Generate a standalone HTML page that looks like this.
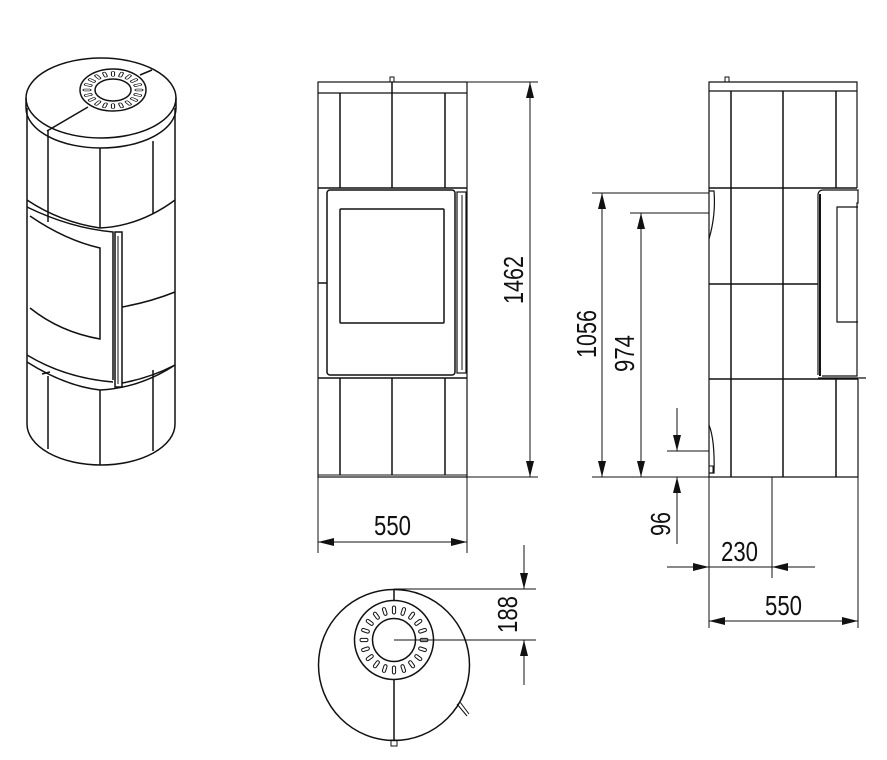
<!DOCTYPE html>
<html><head><meta charset="utf-8"><style>
html,body{margin:0;padding:0;background:#fff;}
svg{display:block;}
text{font-family:"Liberation Sans",sans-serif;fill:#111;}
</style></head><body>
<svg width="887" height="760" viewBox="0 0 887 760" xmlns="http://www.w3.org/2000/svg">
<defs>
<marker id="ar" viewBox="0 0 16 8" refX="16" refY="4" markerWidth="16" markerHeight="8" markerUnits="userSpaceOnUse" orient="auto-start-reverse">
<path d="M0,0 L16,4 L0,8 Z" fill="#111"/>
</marker>
<rect id="slot" x="-1.6" y="-4" width="3.2" height="8" rx="1.6" fill="none" stroke="#111" stroke-width="1"/>
</defs>

<!-- ============ PERSPECTIVE VIEW ============ -->
<g fill="none" stroke="#111" stroke-width="1.5">
<ellipse cx="101" cy="98" rx="75" ry="40"/>
<path d="M26,98 L26,108 A75,40 0 0 0 176,108 L176,98"/>
<line x1="27" y1="108" x2="27" y2="424"/>
<line x1="175" y1="108" x2="175" y2="424"/>
<path d="M27,424 A74,41 0 0 0 175,424"/>
<!-- ring -->
<ellipse cx="113" cy="90" rx="33" ry="21"/>
<ellipse cx="113" cy="90" rx="18" ry="11"/>
<line x1="88" y1="107" x2="47" y2="131"/>
<line x1="140" y1="75" x2="152" y2="70"/>
<!-- upper tiles -->
<line x1="48" y1="131" x2="48" y2="222"/>
<line x1="100" y1="148" x2="100" y2="228"/>
<line x1="153" y1="141" x2="153" y2="214"/>
<!-- upper band -->
<path d="M27,200 Q60,222 100,228 Q140,226 175,200"/>
<!-- door -->
<path d="M27,207 Q70,228 113,232 L113,380"/>
<path d="M30,216 Q65,240 100,248 L100,339 Q60,332 30,308"/>
<rect x="115" y="232" width="7" height="155"/>
<line x1="118" y1="236" x2="118" y2="384" stroke-width="1"/>
<path d="M122,307 Q150,302 175,292"/>
<!-- lower band -->
<path d="M27,355 Q65,378 113,382"/>
<path d="M27,362 Q65,386 100,390 Q140,388 175,365"/>
<path d="M122,383 Q150,378 175,365"/>
<line x1="42" y1="374" x2="50" y2="372"/>
<!-- lower tiles -->
<line x1="48" y1="376" x2="48" y2="449"/>
<line x1="100" y1="390" x2="100" y2="465"/>
<line x1="153" y1="370" x2="153" y2="451"/>
</g>
<g transform="translate(113,90) scale(1,0.62)">
<g>
<use href="#slot" transform="rotate(0) translate(0,-26)"/>
<use href="#slot" transform="rotate(18) translate(0,-26)"/>
<use href="#slot" transform="rotate(36) translate(0,-26)"/>
<use href="#slot" transform="rotate(54) translate(0,-26)"/>
<use href="#slot" transform="rotate(72) translate(0,-26)"/>
<use href="#slot" transform="rotate(90) translate(0,-26)"/>
<use href="#slot" transform="rotate(108) translate(0,-26)"/>
<use href="#slot" transform="rotate(126) translate(0,-26)"/>
<use href="#slot" transform="rotate(144) translate(0,-26)"/>
<use href="#slot" transform="rotate(162) translate(0,-26)"/>
<use href="#slot" transform="rotate(180) translate(0,-26)"/>
<use href="#slot" transform="rotate(198) translate(0,-26)"/>
<use href="#slot" transform="rotate(216) translate(0,-26)"/>
<use href="#slot" transform="rotate(234) translate(0,-26)"/>
<use href="#slot" transform="rotate(252) translate(0,-26)"/>
<use href="#slot" transform="rotate(270) translate(0,-26)"/>
<use href="#slot" transform="rotate(288) translate(0,-26)"/>
<use href="#slot" transform="rotate(306) translate(0,-26)"/>
<use href="#slot" transform="rotate(324) translate(0,-26)"/>
<use href="#slot" transform="rotate(342) translate(0,-26)"/>
</g>
</g>

<!-- ============ FRONT VIEW ============ -->
<g fill="none" stroke="#111" stroke-width="1.5">
<rect x="318" y="82" width="149" height="395" stroke-width="1.2"/>
<line x1="318" y1="93" x2="467" y2="93" stroke-width="1.2"/>
<rect x="390" y="77" width="4" height="5" stroke-width="1"/>
<line x1="340" y1="93" x2="340" y2="188"/>
<line x1="392" y1="82" x2="392" y2="188"/>
<line x1="445" y1="93" x2="445" y2="188"/>
<line x1="318" y1="188" x2="467" y2="188"/>
<rect x="327" y="190" width="128" height="185" rx="3"/>
<rect x="340" y="209" width="104" height="114" rx="1"/>
<rect x="457" y="192" width="9" height="181" stroke-width="1.2"/>
<line x1="462" y1="195" x2="462" y2="370" stroke-width="1"/>
<line x1="318" y1="283" x2="327" y2="283"/>
<line x1="318" y1="378" x2="467" y2="378"/>
<line x1="340" y1="378" x2="340" y2="475"/>
<line x1="392" y1="378" x2="392" y2="475"/>
<line x1="445" y1="378" x2="445" y2="475"/>
<line x1="318" y1="475" x2="467" y2="475" stroke-width="1"/>
</g>
<!-- front dimensions -->
<g stroke="#111" stroke-width="1" fill="none">
<line x1="467" y1="82" x2="538" y2="82"/>
<line x1="467" y1="477" x2="538" y2="477"/>
<line x1="530" y1="82" x2="530" y2="477" marker-start="url(#ar)" marker-end="url(#ar)"/>
<line x1="318" y1="477" x2="318" y2="553"/>
<line x1="467" y1="477" x2="467" y2="553"/>
<line x1="318" y1="542" x2="467" y2="542" marker-start="url(#ar)" marker-end="url(#ar)"/>
</g>
<text x="0" y="0" font-size="28" textLength="48" lengthAdjust="spacingAndGlyphs" transform="translate(523,304) rotate(-90)">1462</text>
<text x="374" y="535" font-size="28" textLength="37" lengthAdjust="spacingAndGlyphs">550</text>

<!-- ============ SIDE VIEW ============ -->
<g fill="none" stroke="#111" stroke-width="1.5">
<path d="M709,477 L709,82 L857,82 L857,188" stroke-width="1.2"/>
<line x1="709" y1="91" x2="857" y2="91" stroke-width="1.2"/>
<rect x="725" y="77" width="4" height="5" stroke-width="1"/>
<line x1="731" y1="91" x2="731" y2="477"/>
<line x1="783" y1="91" x2="783" y2="477"/>
<line x1="836" y1="91" x2="836" y2="188"/>
<line x1="709" y1="188" x2="857" y2="188"/>
<line x1="709" y1="284" x2="818" y2="284"/>
<line x1="709" y1="379" x2="858" y2="379"/>
<line x1="836" y1="379" x2="836" y2="477"/>
<line x1="709" y1="477" x2="858" y2="477" stroke-width="1.2"/>
<line x1="858" y1="379" x2="858" y2="477" stroke-width="1.2"/>
<!-- door profile -->
<path d="M818,375 L818,194 Q819,190 823,190 L858,190 L858,203 L857,203 L857,376 L822,376" stroke-width="1.2"/>
<line x1="820" y1="194" x2="820" y2="376" stroke-width="2"/>
<path d="M858,207 L837,207 L837,322 L858,322" stroke-width="1.2"/>
<line x1="818" y1="378" x2="866" y2="378" stroke-width="1.2"/>
<!-- small curves -->
<path d="M709,191 L714,191 Q716,215 709,239" stroke-width="1.2"/>
<path d="M709,425 Q715,440 714,473 L709,473" stroke-width="1.2"/>
<rect x="709" y="466" width="4" height="7" stroke-width="1"/>
</g>
<!-- side dimensions -->
<g stroke="#111" stroke-width="1" fill="none">
<line x1="592" y1="193" x2="709" y2="193"/>
<line x1="630" y1="213" x2="709" y2="213"/>
<line x1="592" y1="477" x2="709" y2="477"/>
<line x1="602" y1="193" x2="602" y2="477" marker-start="url(#ar)" marker-end="url(#ar)"/>
<line x1="641" y1="213" x2="641" y2="477" marker-start="url(#ar)" marker-end="url(#ar)"/>
<line x1="667" y1="451" x2="709" y2="451"/>
<line x1="677" y1="408" x2="677" y2="451" marker-end="url(#ar)"/>
<line x1="677" y1="544" x2="677" y2="477" marker-end="url(#ar)"/>
<line x1="667" y1="567" x2="709" y2="567" marker-end="url(#ar)"/>
<line x1="709" y1="567" x2="815" y2="567"/>
<line x1="815" y1="567" x2="772" y2="567" marker-end="url(#ar)"/>
<line x1="772" y1="477" x2="772" y2="578"/>
<line x1="709" y1="477" x2="709" y2="628"/>
<line x1="858" y1="477" x2="858" y2="628"/>
<line x1="709" y1="621" x2="858" y2="621" marker-start="url(#ar)" marker-end="url(#ar)"/>
</g>
<text font-size="28" textLength="48" lengthAdjust="spacingAndGlyphs" transform="translate(596,358) rotate(-90)">1056</text>
<text font-size="28" textLength="37" lengthAdjust="spacingAndGlyphs" transform="translate(634,372) rotate(-90)">974</text>
<text font-size="28" textLength="24" lengthAdjust="spacingAndGlyphs" transform="translate(670,536) rotate(-90)">96</text>
<text x="721" y="561" font-size="28" textLength="37" lengthAdjust="spacingAndGlyphs">230</text>
<text x="765" y="615" font-size="28" textLength="37" lengthAdjust="spacingAndGlyphs">550</text>

<!-- ============ TOP VIEW ============ -->
<g fill="none" stroke="#111" stroke-width="1.5">
<circle cx="394" cy="665" r="75.5"/>
<line x1="394" y1="589" x2="394" y2="601"/>
<line x1="394" y1="680" x2="394" y2="740"/>
<rect x="391" y="740" width="6" height="6" stroke-width="1"/>
<circle cx="394" cy="640" r="39.5"/>
<circle cx="394" cy="640" r="21.5"/>
<path d="M457,704 L467,716 M460,702 L469,714" stroke-width="1"/>
</g>
<g transform="translate(394,640)">
<use href="#slot" transform="rotate(0) translate(0,-30)"/>
<use href="#slot" transform="rotate(18) translate(0,-30)"/>
<use href="#slot" transform="rotate(36) translate(0,-30)"/>
<use href="#slot" transform="rotate(54) translate(0,-30)"/>
<use href="#slot" transform="rotate(72) translate(0,-30)"/>
<use href="#slot" transform="rotate(90) translate(0,-30)"/>
<use href="#slot" transform="rotate(108) translate(0,-30)"/>
<use href="#slot" transform="rotate(126) translate(0,-30)"/>
<use href="#slot" transform="rotate(144) translate(0,-30)"/>
<use href="#slot" transform="rotate(162) translate(0,-30)"/>
<use href="#slot" transform="rotate(180) translate(0,-30)"/>
<use href="#slot" transform="rotate(198) translate(0,-30)"/>
<use href="#slot" transform="rotate(216) translate(0,-30)"/>
<use href="#slot" transform="rotate(234) translate(0,-30)"/>
<use href="#slot" transform="rotate(252) translate(0,-30)"/>
<use href="#slot" transform="rotate(270) translate(0,-30)"/>
<use href="#slot" transform="rotate(288) translate(0,-30)"/>
<use href="#slot" transform="rotate(306) translate(0,-30)"/>
<use href="#slot" transform="rotate(324) translate(0,-30)"/>
<use href="#slot" transform="rotate(342) translate(0,-30)"/>
</g>
<g stroke="#111" stroke-width="1" fill="none">
<line x1="394" y1="589" x2="536" y2="589"/>
<line x1="394" y1="640" x2="536" y2="640"/>
<line x1="524" y1="545" x2="524" y2="589" marker-end="url(#ar)"/>
<line x1="524" y1="685" x2="524" y2="640" marker-end="url(#ar)"/>
</g>
<text font-size="28" textLength="37" lengthAdjust="spacingAndGlyphs" transform="translate(517,633) rotate(-90)">188</text>
</svg>
</body></html>
